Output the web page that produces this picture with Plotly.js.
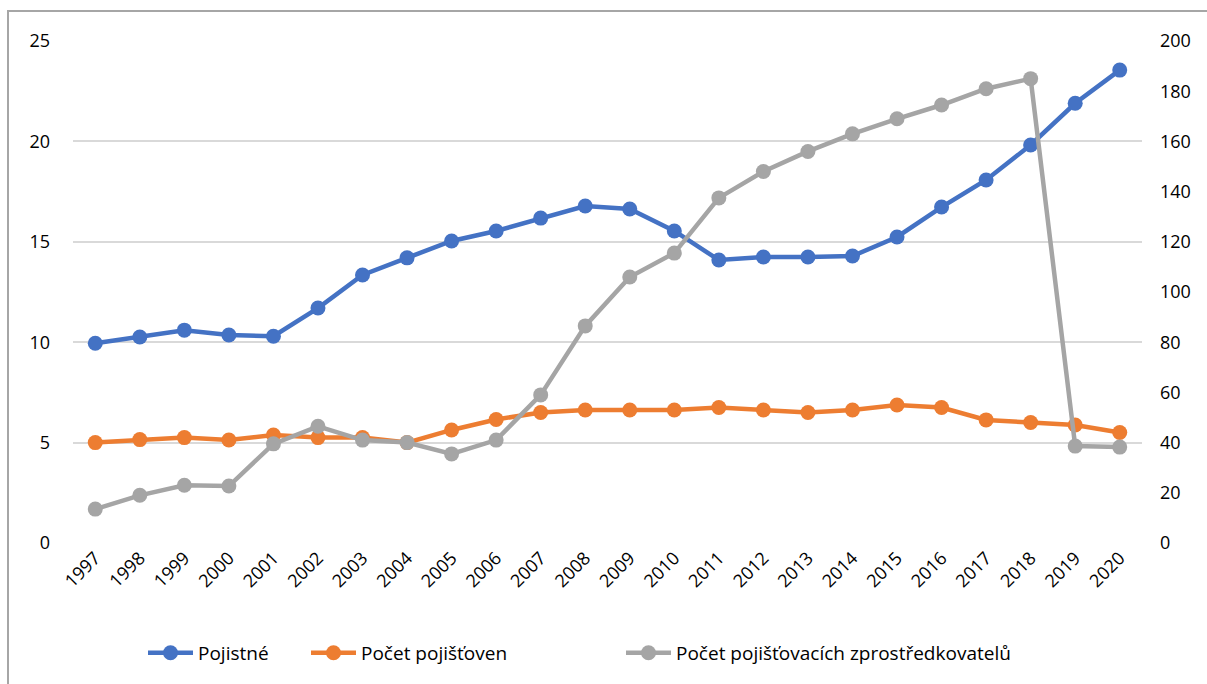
<!DOCTYPE html>
<html><head><meta charset="utf-8">
<script src="https://cdn.plot.ly/plotly-3.0.1.min.js"></script>
<style>html,body{margin:0;padding:0;background:#fff}#chart{width:1207px;height:684px}</style>
</head><body><div id="chart"></div>
<script>
const years = ['1997','1998','1999','2000','2001','2002','2003','2004','2005','2006','2007','2008','2009','2010','2011','2012','2013','2014','2015','2016','2017','2018','2019','2020'];
const pojistne = [9.95,10.26,10.6,10.36,10.3,11.7,13.35,14.2,15.04,15.54,16.18,16.78,16.63,15.54,14.09,14.24,14.24,14.29,15.24,16.73,18.08,19.82,21.9,23.55];
const pocetPojistoven = [5.0,5.15,5.25,5.13,5.38,5.25,5.25,5.0,5.63,6.15,6.5,6.62,6.62,6.62,6.75,6.62,6.5,6.62,6.87,6.75,6.13,6.0,5.88,5.5];
const pocetZprostredkovatelu = [13.5,19,23,22.7,39.5,46.5,41,40,35.5,41,59,86.5,106,115.5,137.5,148,156,163,169,174.5,181,185,38.6,38.2];
const seriesNames = ['Pojistné','Počet pojišťoven','Počet pojišťovacích zprostředkovatelů'];
const colors = ['#4472c4','#ed7d31','#a5a5a5'];

const font = {family:'"Open Sans", "Noto Sans", sans-serif', size:18, color:'#000'};
const legFont = {family:'"Open Sans", "Noto Sans", sans-serif', size:19, color:'#000'};
function tr(y, i, axis, leg){
  return {x:years, y:y, name:seriesNames[i], type:'scatter', mode:'lines+markers', yaxis:axis, legend:leg,
    line:{color:colors[i], width:4.5}, marker:{color:colors[i], size:15}};
}
const data = [tr(pojistne,0,'y','legend'), tr(pocetPojistoven,1,'y','legend2'), tr(pocetZprostredkovatelu,2,'y2','legend3')];
function leg(px){
  return {orientation:'h', x:(px-73)/1069, xanchor:'left', y:-0.219, yanchor:'middle', font:legFont, bgcolor:'rgba(0,0,0,0)', itemwidth:45};
}
const layout = {
  width:1207, height:684,
  margin:{l:73, r:65, t:41, b:141},
  paper_bgcolor:'#fff', plot_bgcolor:'#fff',
  font:font,
  showlegend:true,
  legend:leg(143), legend2:leg(306), legend3:leg(621),
  xaxis:{type:'category', range:[-0.5,23.5], automargin:false, tickangle:-45, showgrid:false, zeroline:false, showline:false, ticks:'', tickfont:font},
  yaxis:{range:[0,25], dtick:5, automargin:false, showgrid:true, gridcolor:'#d9d9d9', gridwidth:2, zeroline:false, showline:false, ticks:'', tickfont:font, ticklabelstandoff:22},
  yaxis2:{range:[0,200], dtick:20, automargin:false, overlaying:'y', side:'right', showgrid:false, zeroline:false, showline:false, ticks:'', tickfont:font, ticklabelstandoff:17},
  shapes:[{type:'rect', xref:'paper', yref:'paper', x0:-0.0608, x1:1.3, y0:-0.6, y1:1.0598, line:{color:'#a6a6a6', width:2}, fillcolor:'rgba(0,0,0,0)', layer:'below'}]
};
Plotly.newPlot('chart', data, layout, {displayModeBar:false, staticPlot:true});
</script></body></html>
